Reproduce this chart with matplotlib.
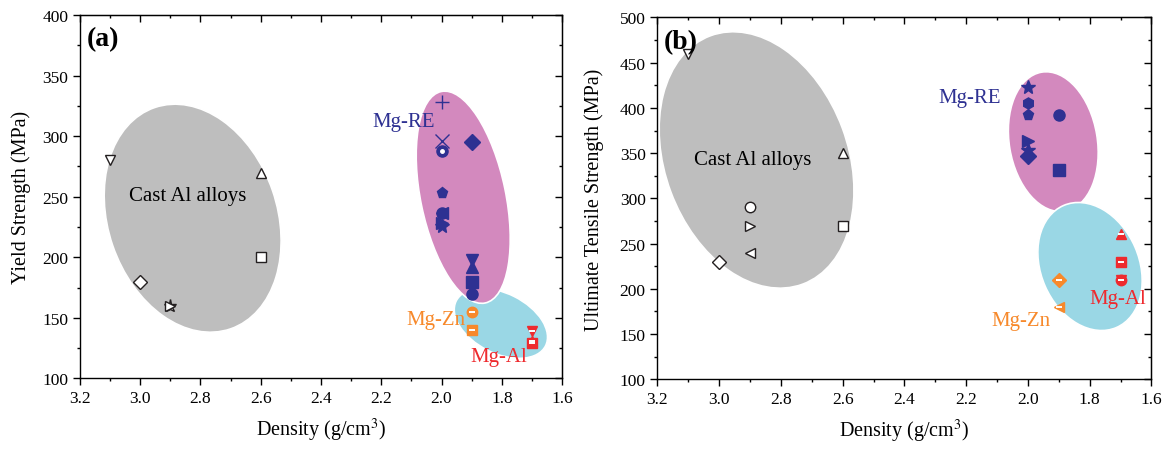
import numpy as np
import matplotlib.pyplot as plt
from matplotlib.patches import Ellipse
from matplotlib.transforms import ScaledTranslation
from matplotlib.ticker import MultipleLocator

plt.rcParams['font.family'] = ['Liberation Serif', 'DejaVu Serif']
plt.rcParams['mathtext.fontset'] = 'stix'

# colours
navy = '#2E3192'
orange = '#F7892B'
red = '#EE2A2E'
edge = '#231F20'

# ---- panel (a): yield strength ----
a_cast_x = [3.1, 2.6, 2.6, 3.0, 2.9, 2.9]
a_cast_y = [280, 270, 200, 180, 160, 160]
a_cast_mk = ['v', '^', 's', 'D', '*', '>']

a_re_x = [2.0, 2.0, 2.0, 1.9, 2.0, 2.0, 2.0, 2.0, 2.0, 1.9, 1.9, 1.9, 1.9]
a_re_y = [328, 296, 288, 295, 253, 237, 237, 226, 228, 198, 192, 180, 170]
a_re_mk = ['+', 'x', 'o', 'D', 'p', '<', 'o', '*', '>', 'v', '^', 's', 'o']

a_zn_x = [1.9, 1.9]
a_zn_y = [155, 140]
a_zn_mk = ['o', 's']

a_al_x = [1.7, 1.7, 1.7]
a_al_y = [139, 131, 129]
a_al_mk = ['v', '^', 's']

# ---- panel (b): ultimate tensile strength ----
b_cast_x = [3.1, 2.6, 2.9, 2.9, 2.9, 2.6, 3.0]
b_cast_y = [460, 350, 290, 270, 240, 270, 230]
b_cast_mk = ['v', '^', 'o', '>', '<', 's', 'D']

b_re_x = [2.0, 2.0, 2.0, 1.9, 2.0, 2.0, 2.0, 1.9]
b_re_y = [423, 405, 392, 392, 364, 354, 347, 331]
b_re_mk = ['*', 'h', 'p', 'o', '>', '*', 'D', 's']

b_zn_x = [1.9, 1.9]
b_zn_y = [210, 180]
b_zn_mk = ['D', '<']

b_al_x = [1.7, 1.7, 1.7, 1.7]
b_al_y = [261, 230, 210, 210]
b_al_mk = ['^', 's', 'o', 'v']


def blob(ax, cx, cy, w, h, ang, color, z):
    # ellipse sized in pixels, centred on a data point
    tr = fig.dpi_scale_trans + ScaledTranslation(cx, cy, ax.transData)
    e = Ellipse((0, 0), w / 100, h / 100, angle=ang, transform=tr,
                facecolor=color, edgecolor='white', lw=1.2, zorder=z)
    ax.add_patch(e)


def pts(ax, xs, ys, mks, fc, ec, band=False, ms=7.5):
    for x, y, m in zip(xs, ys, mks):
        size = ms + 2 if m in ['*', '+', 'x'] else ms
        ax.plot(x, y, marker=m, ms=size, mfc=fc, mec=ec, mew=1.0,
                ls='none', zorder=3)
        if band:
            ax.plot(x, y, marker='_', ms=ms * 0.6, mec='white', mew=1.4,
                    ls='none', zorder=4)


def style(ax, ymax, ylabel, ypad):
    ax.set_xlim(3.2, 1.6)
    ax.set_ylim(100, ymax)
    ax.set_xticks(np.arange(1.6, 3.21, 0.2))
    ax.xaxis.set_minor_locator(MultipleLocator(0.1))
    ax.yaxis.set_major_locator(MultipleLocator(50))
    ax.yaxis.set_minor_locator(MultipleLocator(25))
    ax.xaxis.set_major_formatter(plt.FuncFormatter(lambda v, p: f'{v:.1f}'))
    ax.tick_params(which='both', direction='out', top=False, right=False,
                   labelsize=12.5, width=1)
    ax.tick_params(which='major', length=5)
    ax.tick_params(which='minor', length=2.5)
    for s in ax.spines.values():
        s.set_linewidth(1)
    top = ax.secondary_xaxis('top')
    top.set_xticks(np.arange(1.6, 3.21, 0.2))
    top.xaxis.set_minor_locator(MultipleLocator(0.1))
    top.tick_params(which='both', direction='in', labeltop=False, width=1)
    top.tick_params(which='major', length=5)
    top.tick_params(which='minor', length=2.5)
    rt = ax.secondary_yaxis('right')
    rt.yaxis.set_major_locator(MultipleLocator(50))
    rt.yaxis.set_minor_locator(MultipleLocator(25))
    rt.tick_params(which='both', direction='in', labelright=False, width=1)
    rt.tick_params(which='major', length=5)
    rt.tick_params(which='minor', length=2.5)
    ax.set_xlabel(r'Density (g/cm$^3$)', fontsize=14.5, labelpad=7)
    ax.set_ylabel(ylabel, fontsize=14.5, labelpad=ypad)


fig = plt.figure(figsize=(11.69, 4.52), dpi=100)
axa = fig.add_axes([0.0684, 0.1604, 0.4124, 0.8042])
axb = fig.add_axes([0.5624, 0.1586, 0.4226, 0.8005])

style(axa, 400, 'Yield Strength (MPa)', 8)
style(axb, 500, 'Ultimate Tensile Strength (MPa)', 11)

# (a)
blob(axa, 2.826, 232.3, 234, 169, 108.9, '#BEBEBE', 1)
blob(axa, 1.803, 145.5, 100, 60, -26.7, '#9AD7E5', 1)
blob(axa, 1.928, 249.6, 216, 85, 101.7, '#D389BE', 2)
pts(axa, a_cast_x, a_cast_y, a_cast_mk, 'white', edge)
pts(axa, a_re_x, a_re_y, a_re_mk, navy, navy, ms=8)
axa.plot(2.0, 288, marker='o', ms=2.5, mfc='white', mec='white', ls='none', zorder=4)
pts(axa, a_zn_x, a_zn_y, a_zn_mk, orange, orange, band=True)
pts(axa, a_al_x, a_al_y, a_al_mk, red, red, band=True)

axa.text(0.048, 0.936, '(a)', transform=axa.transAxes, fontsize=20,
         fontweight='bold', ha='center', va='center')
axa.text(2.844, 251, 'Cast Al alloys', fontsize=15, ha='center', va='center', zorder=5)
axa.text(2.127, 312, 'Mg-RE', fontsize=15, color=navy, ha='center', va='center', zorder=5)
axa.text(2.019, 149, 'Mg-Zn', fontsize=15, color=orange, ha='center', va='center', zorder=5)
axa.text(1.811, 118, 'Mg-Al', fontsize=15, color=red, ha='center', va='center', zorder=5)

# (b)
blob(axb, 2.879, 342.5, 265, 183, 110.4, '#BEBEBE', 1)
blob(axb, 1.918, 362.7, 141, 88, 99.5, '#D389BE', 1)
blob(axb, 1.799, 224.7, 133, 98, 113.5, '#9AD7E5', 2)
pts(axb, b_cast_x, b_cast_y, b_cast_mk, 'white', edge)
pts(axb, b_re_x, b_re_y, b_re_mk, navy, navy, ms=8)
pts(axb, b_zn_x, b_zn_y, b_zn_mk, orange, orange, band=True)
pts(axb, b_al_x, b_al_y, b_al_mk, red, red, band=True)

axb.text(0.048, 0.933, '(b)', transform=axb.transAxes, fontsize=20,
         fontweight='bold', ha='center', va='center')
axb.text(2.891, 342.5, 'Cast Al alloys', fontsize=15, ha='center', va='center', zorder=5)
axb.text(2.189, 412, 'Mg-RE', fontsize=15, color=navy, ha='center', va='center', zorder=5)
axb.text(2.024, 164.5, 'Mg-Zn', fontsize=15, color=orange, ha='center', va='center', zorder=5)
axb.text(1.710, 189.6, 'Mg-Al', fontsize=15, color=red, ha='center', va='center', zorder=5)

fig.savefig('out.png', dpi=100)
